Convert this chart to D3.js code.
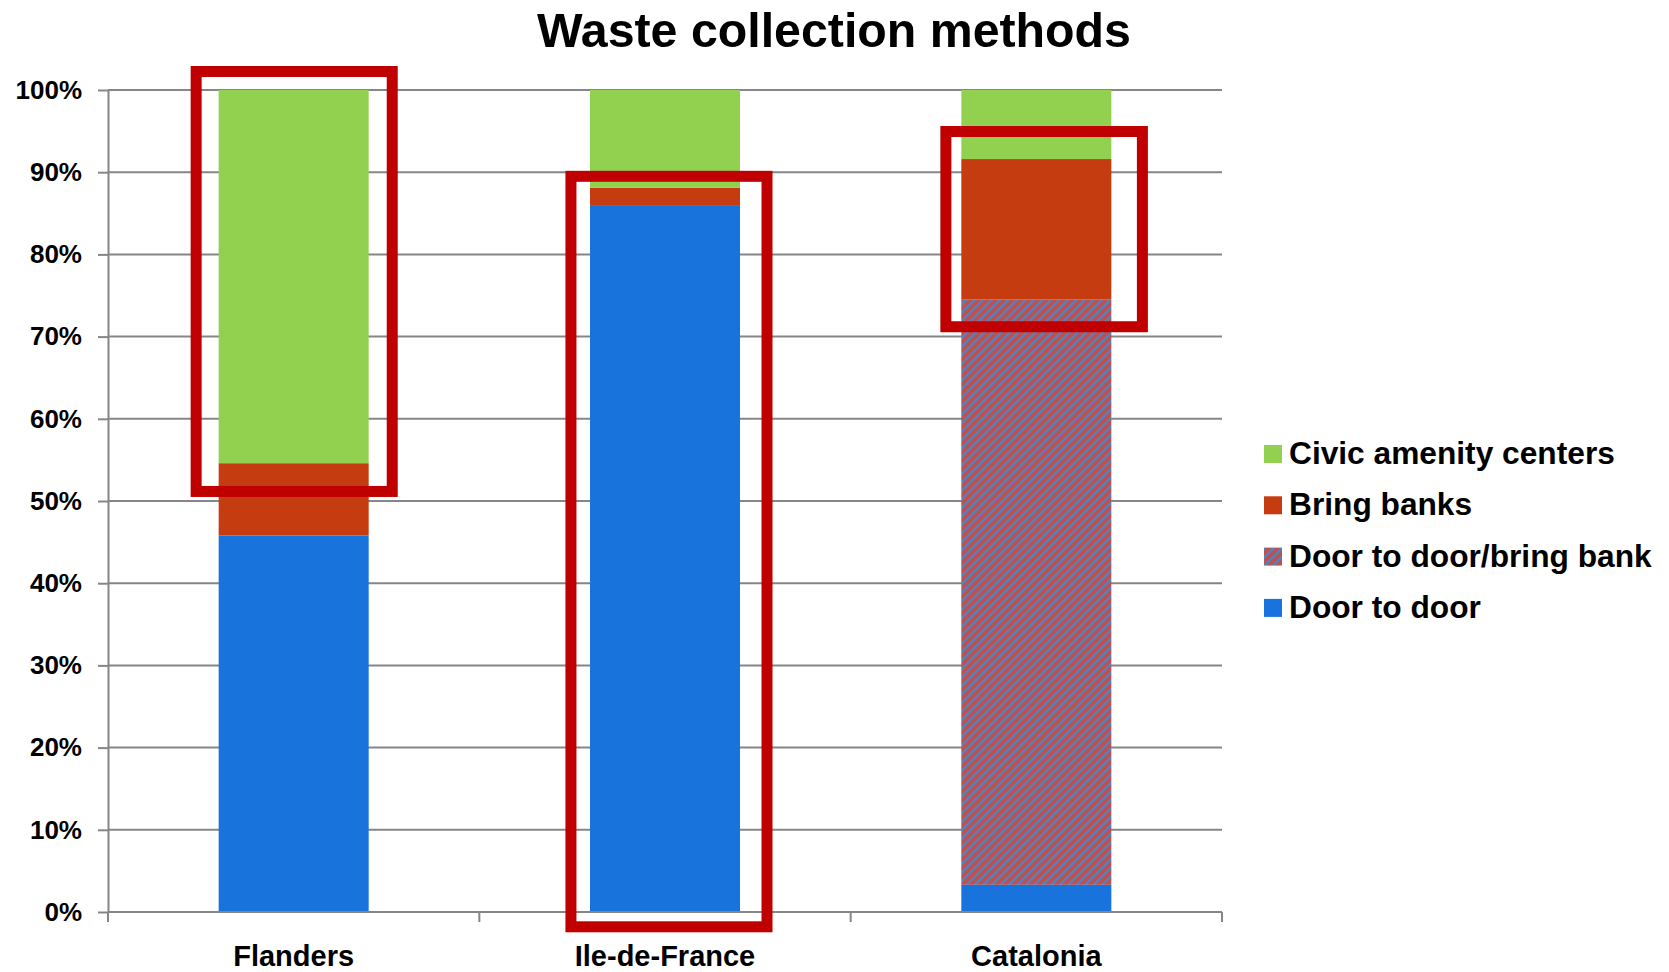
<!DOCTYPE html>
<html>
<head>
<meta charset="utf-8">
<script src="https://cdn.jsdelivr.net/npm/d3@7"></script>
<style>
  html, body { margin: 0; padding: 0; background: #fff; }
  svg { display: block; font-family: "Liberation Sans", Arial, sans-serif; }
</style>
</head>
<body>
<svg id="chart" width="1669" height="972"></svg>
<script>
// ---- data ----
const categories = ["Flanders", "Ile-de-France", "Catalonia"];
const seriesNames = ["Door to door", "Door to door/bring bank", "Bring banks", "Civic amenity centers"];
const doorToDoor = [0.458, 0.859, 0.033];
const doorBring = [0.0, 0.0, 0.712];
const bringBanks = [0.088, 0.022, 0.171];
const civicCenters = [0.454, 0.119, 0.084];
const yTickValues = [0, 0.1, 0.2, 0.3, 0.4, 0.5, 0.6, 0.7, 0.8, 0.9, 1.0];
const legendOrder = ["Civic amenity centers", "Bring banks", "Door to door/bring bank", "Door to door"];
// highlight boxes (annotation): category, top value, bottom value
const boxCategories = ["Flanders", "Ile-de-France", "Catalonia"];
const boxTop = [1.0225, 0.895, 0.9495];
const boxBottom = [0.5116, -0.018, 0.712];
const boxLeftPad = [0.15, 0.127, 0.103];
const boxRightPad = [0.157, 0.18, 0.207];

(function () {
// ---- styles ----
const colors = {
  "Door to door": "#1874dc",
  "Door to door/bring bank": "url(#hatch)",
  "Bring banks": "#c53c10",
  "Civic amenity centers": "#92d050"
};

const svg = d3.select("#chart");
const mLeft = 108, mRight = 1222, mTop = 90, mBottom = 912;

const defs = svg.append("defs");
const pat = defs.append("pattern")
  .attr("id", "hatch").attr("patternUnits", "userSpaceOnUse")
  .attr("width", 6).attr("height", 6)
  .attr("patternTransform", "rotate(45)");
pat.append("rect").attr("width", 6).attr("height", 6).attr("fill", "#c0504d");
pat.append("rect").attr("width", 2.2).attr("height", 6).attr("fill", "#4a86c8");

const x = d3.scaleBand().domain(categories).range([mLeft, mRight])
  .paddingInner(0.596).paddingOuter(0.298);
const y = d3.scaleLinear().domain([0, 1]).range([mBottom, mTop]);

// title
svg.append("text")
  .attr("x", 834).attr("y", 47)
  .attr("text-anchor", "middle")
  .attr("font-size", 48.3).attr("font-weight", "bold")
  .text("Waste collection methods");

// gridlines
svg.append("g").selectAll("line")
  .data(yTickValues.filter(d => d > 0))
  .join("line")
  .attr("x1", mLeft).attr("x2", mRight)
  .attr("y1", d => y(d)).attr("y2", d => y(d))
  .attr("stroke", "#868686").attr("stroke-width", 2);

// stacked bars
const table = categories.map((c, i) => ({
  category: c,
  "Door to door": doorToDoor[i],
  "Door to door/bring bank": doorBring[i],
  "Bring banks": bringBanks[i],
  "Civic amenity centers": civicCenters[i]
}));
const stack = d3.stack().keys(seriesNames)(table);
svg.append("g").selectAll("g")
  .data(stack).join("g")
  .attr("fill", d => colors[d.key])
  .selectAll("rect")
  .data(d => d.filter(p => p[1] - p[0] > 0))
  .join("rect")
  .attr("x", d => x(d.data.category))
  .attr("width", x.bandwidth())
  .attr("y", d => y(d[1]))
  .attr("height", d => y(d[0]) - y(d[1]));

// y axis
const yAxis = svg.append("g")
  .attr("transform", `translate(${mLeft},0)`)
  .call(d3.axisLeft(y).tickValues(yTickValues).tickFormat(d3.format(".0%"))
    .tickSizeInner(10).tickSizeOuter(0).tickPadding(16));
yAxis.select(".domain").attr("stroke", "#868686").attr("stroke-width", 2);
yAxis.selectAll(".tick line").attr("stroke", "#868686").attr("stroke-width", 2);
yAxis.selectAll("text").attr("font-size", 26).attr("font-weight", "bold")
  .attr("fill", "#000").attr("font-family", "Liberation Sans, Arial, sans-serif");

// x axis
const xAxisG = svg.append("g").attr("transform", `translate(0,${mBottom})`);
xAxisG.append("line").attr("x1", mLeft).attr("x2", mRight)
  .attr("stroke", "#868686").attr("stroke-width", 2);
const step = x.step();
const sepPositions = d3.range(categories.length + 1).map(i => mLeft + i * step);
xAxisG.selectAll("line.sep").data(sepPositions).join("line")
  .attr("class", "sep")
  .attr("x1", d => d).attr("x2", d => d).attr("y1", 0).attr("y2", 10)
  .attr("stroke", "#868686").attr("stroke-width", 2);
xAxisG.selectAll("text").data(categories).join("text")
  .attr("x", d => x(d) + x.bandwidth() / 2)
  .attr("y", 54)
  .attr("text-anchor", "middle")
  .attr("font-size", 29).attr("font-weight", "bold")
  .text(d => d);

// highlight boxes
svg.append("g").selectAll("rect")
  .data(boxCategories.map((c, i) => ({c, t: boxTop[i], b: boxBottom[i], l: boxLeftPad[i], r: boxRightPad[i]})))
  .join("rect")
  .attr("x", d => x(d.c) - d.l * x.bandwidth())
  .attr("width", d => x.bandwidth() * (1 + d.l + d.r))
  .attr("y", d => y(d.t))
  .attr("height", d => y(d.b) - y(d.t))
  .attr("fill", "none").attr("stroke", "#c00000").attr("stroke-width", 11);

// legend
const legend = svg.append("g").attr("transform", "translate(1264,445)");
const rows = legend.selectAll("g").data(legendOrder).join("g")
  .attr("transform", (d, i) => `translate(0,${i * 51.3})`);
rows.append("rect").attr("width", 18).attr("height", 18)
  .attr("fill", d => colors[d]);
rows.append("text").attr("x", 25).attr("y", 19)
  .attr("font-size", 31.7).attr("font-weight", "bold")
  .text(d => d);
})();
</script>
</body>
</html>
